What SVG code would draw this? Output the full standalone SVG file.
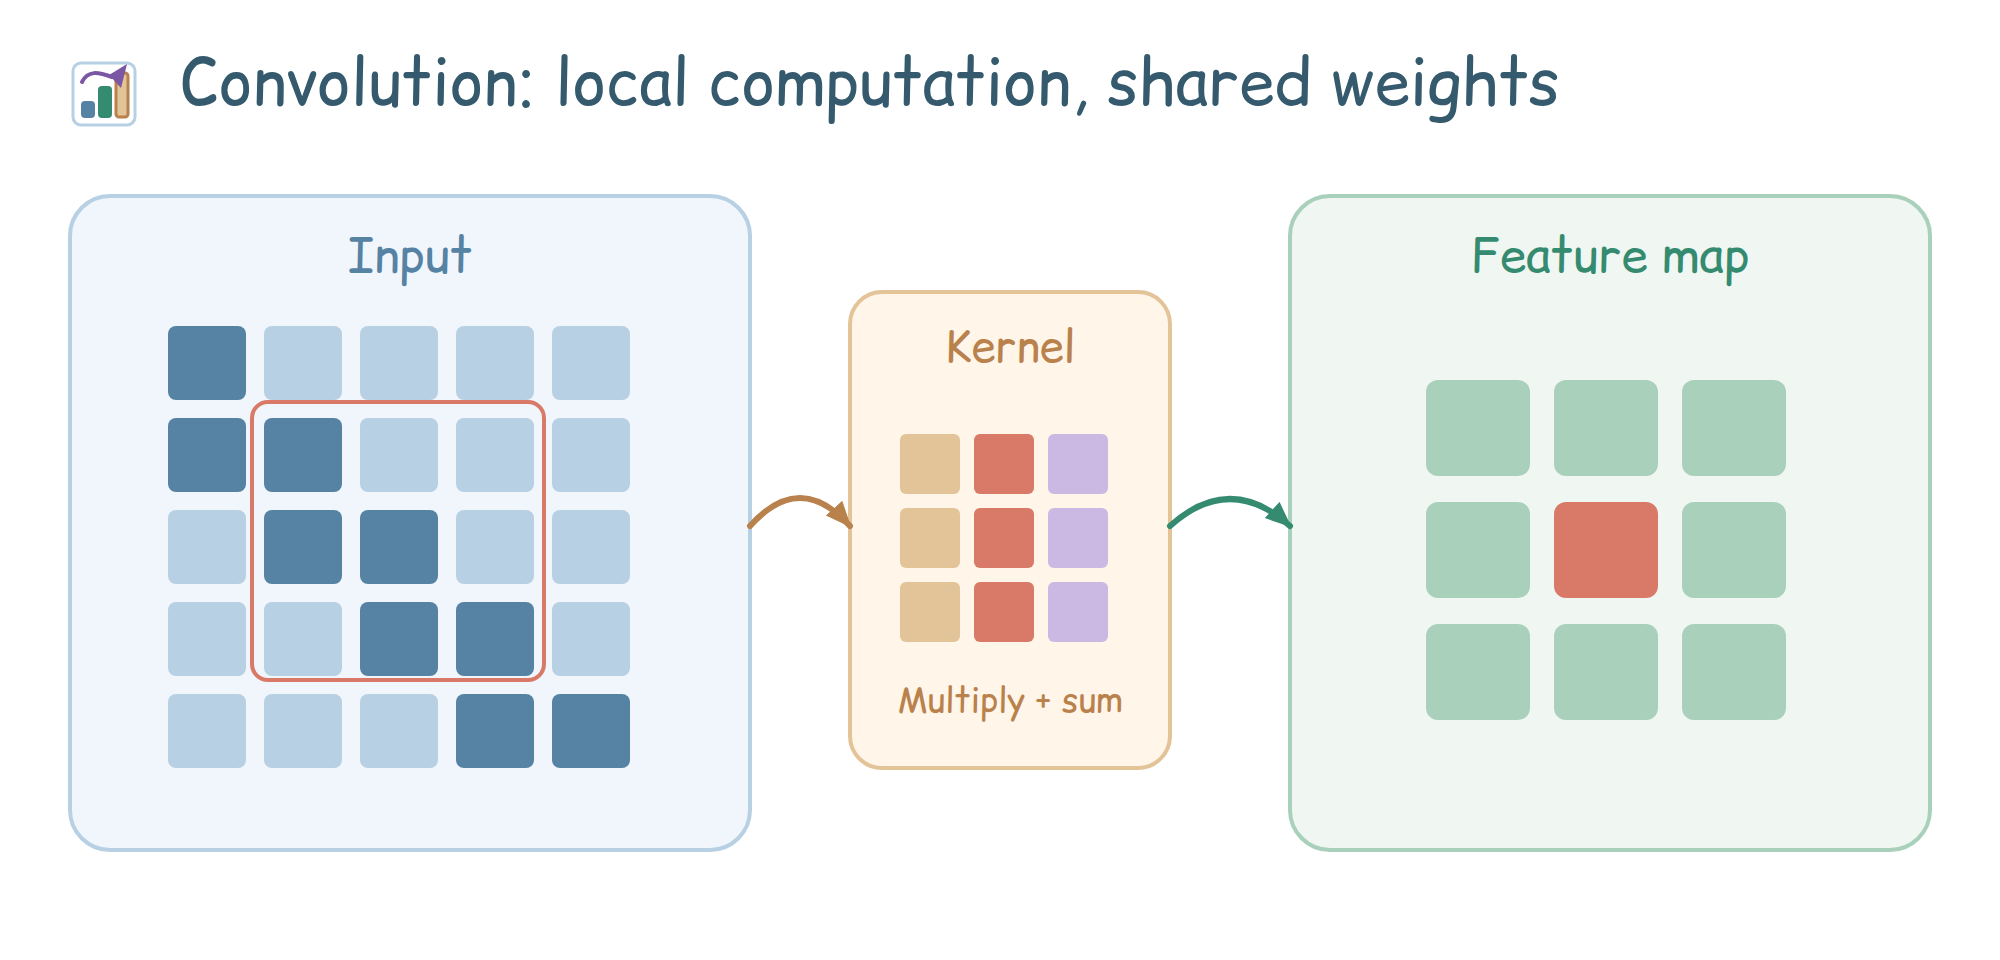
<svg xmlns="http://www.w3.org/2000/svg" width="2000" height="960" viewBox="0 0 2000 960">
<style>
text{font-family:"Comic Relief","Comic Neue",cursive;text-anchor:middle}
.d{fill:#5682a3}.l{fill:#b8d0e3}.g{fill:#a9d0bb}.r{fill:#d97a68}.o{fill:#e3c498}.p{fill:#cbb8e3}
</style>
<defs>
<marker id="ao" markerUnits="userSpaceOnUse" markerWidth="28" markerHeight="24" refX="24" refY="11" orient="auto"><path d="M0 0L26 11L0 22Z" fill="#b9814c"/></marker>
<marker id="ag" markerUnits="userSpaceOnUse" markerWidth="28" markerHeight="24" refX="24" refY="11" orient="auto"><path d="M0 0L26 11L0 22Z" fill="#358b70"/></marker>
</defs>
<rect width="2000" height="960" fill="#fff"/>
<g id="icon">
<rect x="73" y="63" width="62" height="62" rx="8" fill="#fff" stroke="#b8d0e3" stroke-width="3"/>
<rect x="81" y="101" width="14" height="17" rx="4" fill="#5682a3"/>
<rect x="98" y="86" width="14" height="32" rx="4" fill="#358b70"/>
<rect x="116" y="73" width="12" height="44" rx="3" fill="#e3c498" stroke="#b9814c" stroke-width="3"/>
<path d="M82 82C88 70 98 72 112 77" fill="none" stroke="#7b56a3" stroke-width="4" stroke-linecap="round"/>
<path d="M127 64L109 75L121 88Z" fill="#7b56a3"/>
</g>
<text id="title" x="870" y="105" font-size="64" fill="#355a6e">Convolution: local computation, shared weights</text>
<g id="input">
<rect x="70" y="196" width="680" height="654" rx="40" fill="#f0f6fc" stroke="#b8d0e3" stroke-width="4"/>
<text x="410" y="272" font-size="48" fill="#5682a3">Input</text>
<rect class="d" x="168" y="326" width="78" height="74" rx="8"/><rect class="l" x="264" y="326" width="78" height="74" rx="8"/><rect class="l" x="360" y="326" width="78" height="74" rx="8"/><rect class="l" x="456" y="326" width="78" height="74" rx="8"/><rect class="l" x="552" y="326" width="78" height="74" rx="8"/>
<rect class="d" x="168" y="418" width="78" height="74" rx="8"/><rect class="d" x="264" y="418" width="78" height="74" rx="8"/><rect class="l" x="360" y="418" width="78" height="74" rx="8"/><rect class="l" x="456" y="418" width="78" height="74" rx="8"/><rect class="l" x="552" y="418" width="78" height="74" rx="8"/>
<rect class="l" x="168" y="510" width="78" height="74" rx="8"/><rect class="d" x="264" y="510" width="78" height="74" rx="8"/><rect class="d" x="360" y="510" width="78" height="74" rx="8"/><rect class="l" x="456" y="510" width="78" height="74" rx="8"/><rect class="l" x="552" y="510" width="78" height="74" rx="8"/>
<rect class="l" x="168" y="602" width="78" height="74" rx="8"/><rect class="l" x="264" y="602" width="78" height="74" rx="8"/><rect class="d" x="360" y="602" width="78" height="74" rx="8"/><rect class="d" x="456" y="602" width="78" height="74" rx="8"/><rect class="l" x="552" y="602" width="78" height="74" rx="8"/>
<rect class="l" x="168" y="694" width="78" height="74" rx="8"/><rect class="l" x="264" y="694" width="78" height="74" rx="8"/><rect class="l" x="360" y="694" width="78" height="74" rx="8"/><rect class="d" x="456" y="694" width="78" height="74" rx="8"/><rect class="d" x="552" y="694" width="78" height="74" rx="8"/>
<rect x="252" y="402" width="292" height="278" rx="16" fill="none" stroke="#d97a68" stroke-width="4"/>
</g>
<g id="kernel">
<rect x="850" y="292" width="320" height="476" rx="32" fill="#fff5e9" stroke="#e3c498" stroke-width="4"/>
<text x="1010" y="362" font-size="44" fill="#b9814c">Kernel</text>
<rect class="o" x="900" y="434" width="60" height="60" rx="6"/><rect class="r" x="974" y="434" width="60" height="60" rx="6"/><rect class="p" x="1048" y="434" width="60" height="60" rx="6"/>
<rect class="o" x="900" y="508" width="60" height="60" rx="6"/><rect class="r" x="974" y="508" width="60" height="60" rx="6"/><rect class="p" x="1048" y="508" width="60" height="60" rx="6"/>
<rect class="o" x="900" y="582" width="60" height="60" rx="6"/><rect class="r" x="974" y="582" width="60" height="60" rx="6"/><rect class="p" x="1048" y="582" width="60" height="60" rx="6"/>
<text x="1010" y="712" font-size="34" fill="#b9814c">Multiply + sum</text>
</g>
<g id="feature">
<rect x="1290" y="196" width="640" height="654" rx="40" fill="#f0f6f1" stroke="#a9d0bb" stroke-width="4"/>
<text x="1610" y="272" font-size="48" fill="#358b70">Feature map</text>
<rect class="g" x="1426" y="380" width="104" height="96" rx="12"/><rect class="g" x="1554" y="380" width="104" height="96" rx="12"/><rect class="g" x="1682" y="380" width="104" height="96" rx="12"/>
<rect class="g" x="1426" y="502" width="104" height="96" rx="12"/><rect class="r" x="1554" y="502" width="104" height="96" rx="12"/><rect class="g" x="1682" y="502" width="104" height="96" rx="12"/>
<rect class="g" x="1426" y="624" width="104" height="96" rx="12"/><rect class="g" x="1554" y="624" width="104" height="96" rx="12"/><rect class="g" x="1682" y="624" width="104" height="96" rx="12"/>
</g>
<g id="connectors" fill="none" stroke-width="6" stroke-linecap="round">
<path d="M750 526Q800 470 850 526" stroke="#b9814c" marker-end="url(#ao)"/>
<path d="M1170 526Q1230 472 1290 526" stroke="#358b70" marker-end="url(#ag)"/>
</g>
</svg>
